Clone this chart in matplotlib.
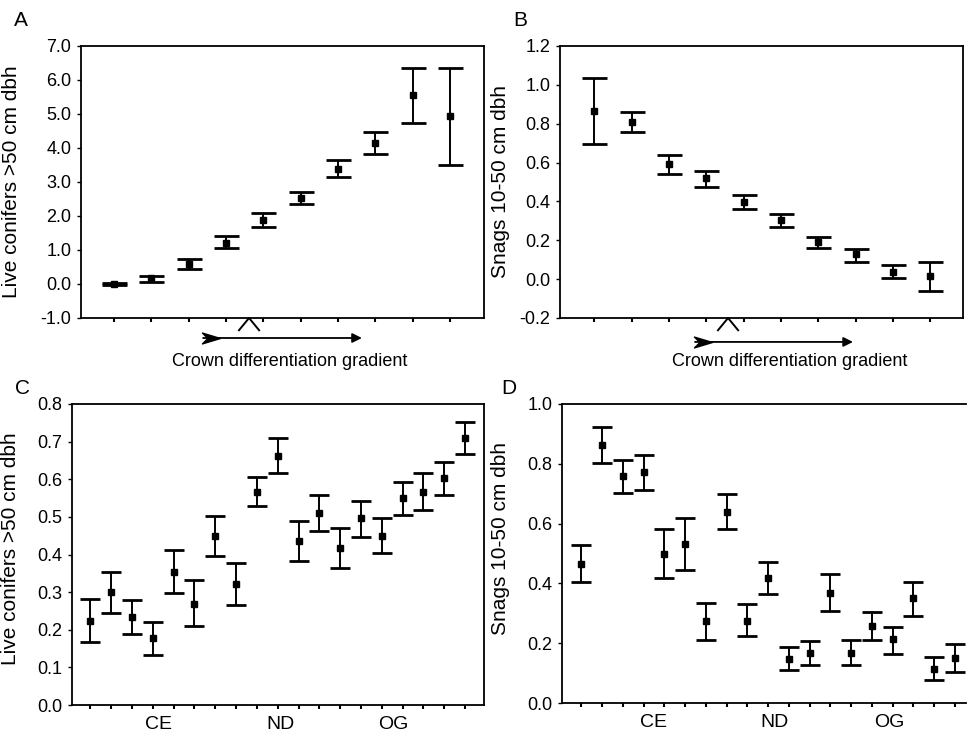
"""Four-panel error bar figure: live conifers and snags along a crown differentiation gradient."""
import matplotlib.pyplot as plt
import numpy as np
from matplotlib.path import Path

plt.rcParams["font.family"] = ["Liberation Sans", "DejaVu Sans"]

# panel A: live conifers >50 cm dbh, 10 gradient classes
A_mean = [0.0, 0.17, 0.58, 1.20, 1.88, 2.53, 3.38, 4.14, 5.57, 4.95]
A_lo = [-0.03, 0.07, 0.43, 1.05, 1.69, 2.36, 3.16, 3.81, 4.74, 3.51]
A_hi = [0.03, 0.25, 0.74, 1.41, 2.08, 2.71, 3.65, 4.48, 6.36, 6.36]

# panel B: snags 10-50 cm dbh, 10 gradient classes
B_mean = [0.865, 0.81, 0.591, 0.519, 0.399, 0.305, 0.191, 0.128, 0.038, 0.018]
B_lo = [0.694, 0.759, 0.543, 0.476, 0.360, 0.270, 0.159, 0.090, 0.008, -0.059]
B_hi = [1.034, 0.859, 0.639, 0.558, 0.433, 0.335, 0.219, 0.157, 0.073, 0.090]

# panel C: live conifers >50 cm dbh, 19 stands
C_mean = [0.224, 0.300, 0.235, 0.179, 0.354, 0.269, 0.448, 0.322, 0.567, 0.661,
          0.437, 0.509, 0.417, 0.496, 0.449, 0.551, 0.565, 0.602, 0.709]
C_lo = [0.168, 0.245, 0.190, 0.132, 0.299, 0.209, 0.397, 0.266, 0.529, 0.616,
        0.383, 0.462, 0.364, 0.447, 0.403, 0.506, 0.519, 0.557, 0.666]
C_hi = [0.281, 0.354, 0.278, 0.220, 0.412, 0.332, 0.501, 0.378, 0.606, 0.709,
        0.489, 0.559, 0.470, 0.542, 0.496, 0.594, 0.616, 0.646, 0.751]

# panel D: snags 10-50 cm dbh, 19 stands
D_mean = [0.465, 0.862, 0.760, 0.773, 0.498, 0.532, 0.273, 0.639, 0.275, 0.418,
          0.148, 0.166, 0.368, 0.166, 0.256, 0.214, 0.350, 0.115, 0.151]
D_lo = [0.405, 0.803, 0.703, 0.711, 0.418, 0.444, 0.212, 0.582, 0.225, 0.365,
        0.110, 0.127, 0.307, 0.126, 0.211, 0.165, 0.290, 0.076, 0.104]
D_hi = [0.528, 0.924, 0.814, 0.829, 0.581, 0.619, 0.334, 0.700, 0.330, 0.472,
        0.188, 0.206, 0.430, 0.210, 0.303, 0.254, 0.406, 0.154, 0.197]

GROUPS = ["CE", "ND", "OG"]
C_GROUP_POS = [4.26, 10.12, 15.55]
D_GROUP_POS = [4.46, 10.32, 15.84]

W, H = 967, 738
# notched tail for the gradient arrow
TAIL = Path([(-1.0, 0.6), (1.0, 0.0), (-1.0, -0.6), (-0.4, 0.0), (-1.0, 0.6)],
            [Path.MOVETO, Path.LINETO, Path.LINETO, Path.LINETO, Path.CLOSEPOLY])


def px_axes(fig, left, top, right, bottom):
    return fig.add_axes([left / W, 1 - bottom / H, (right - left) / W, (bottom - top) / H])


def draw_panel(ax, mean, lo, hi, capsize):
    mean = np.asarray(mean)
    x = np.arange(1, len(mean) + 1)
    yerr = [mean - np.asarray(lo), np.asarray(hi) - mean]
    ax.errorbar(x, mean, yerr=yerr, fmt="s", color="black", markersize=4.5,
                elinewidth=1.4, capsize=capsize, capthick=2.0)
    ax.set_xticks(x)
    ax.set_xticklabels([])
    ax.tick_params(axis="x", which="major", direction="out", length=3, width=1.5)
    ax.tick_params(axis="y", direction="out", length=3, width=1, pad=4, labelsize=13)
    for s in ax.spines.values():
        s.set_linewidth(1.3)


def gradient_arrow(ax, tail_x, head_x, y, caret_x, text_x):
    ax.annotate("", xy=(head_x, y), xytext=(tail_x, y), xycoords="axes fraction",
                arrowprops=dict(arrowstyle="-|>", color="black", lw=1.3,
                                mutation_scale=14, shrinkA=0, shrinkB=0),
                annotation_clip=False)
    ax.plot([tail_x + 0.02], [y], transform=ax.transAxes, marker=TAIL, markersize=13,
            color="black", clip_on=False)
    ax.plot([caret_x - 0.025, caret_x, caret_x + 0.025], [-0.045, 0.0, -0.045],
            transform=ax.transAxes, color="black", lw=1.4, clip_on=False)
    ax.text(text_x, -0.16, "Crown differentiation gradient", transform=ax.transAxes,
            ha="center", va="center", fontsize=13)


fig = plt.figure(figsize=(W / 100, H / 100), dpi=100)

axA = px_axes(fig, 81, 46, 484, 318)
draw_panel(axA, A_mean, A_lo, A_hi, capsize=9)
axA.set_xlim(0.12, 10.91)
axA.set_ylim(-1.0, 7.0)
axA.set_yticks(np.arange(-1.0, 7.01, 1.0))
axA.set_yticklabels([f"{v:.1f}" for v in np.arange(-1.0, 7.01, 1.0)])
axA.set_ylabel("Live conifers >50 cm dbh", fontsize=15)
axA.yaxis.set_label_coords(-0.148, 0.5)
gradient_arrow(axA, 0.303, 0.697, -0.0735, 0.417, 0.517)

axB = px_axes(fig, 560, 46, 963, 318)
draw_panel(axB, B_mean, B_lo, B_hi, capsize=9)
axB.set_xlim(0.08, 10.88)
axB.set_ylim(-0.2, 1.2)
axB.set_yticks(np.arange(-0.2, 1.21, 0.2))
axB.set_yticklabels([f"{v:.1f}" for v in np.arange(-0.2, 1.21, 0.2)])
axB.set_ylabel("Snags 10-50 cm dbh", fontsize=15)
axB.yaxis.set_label_coords(-0.125, 0.5)
gradient_arrow(axB, 0.335, 0.727, -0.088, 0.417, 0.571)

axC = px_axes(fig, 72, 404, 484, 705)
draw_panel(axC, C_mean, C_lo, C_hi, capsize=7)
axC.set_xlim(0.12, 19.91)
axC.set_ylim(0.0, 0.8)
axC.set_yticks(np.arange(0.0, 0.81, 0.1))
axC.set_yticklabels([f"{v:.1f}" for v in np.arange(0.0, 0.81, 0.1)])
axC.set_xticks(C_GROUP_POS, GROUPS, minor=True)
axC.tick_params(axis="x", which="minor", length=0, pad=8, labelsize=14)
axC.set_ylabel("Live conifers >50 cm dbh", fontsize=15)
axC.yaxis.set_label_coords(-0.127, 0.52)

axD = px_axes(fig, 562, 404, 966, 703)
draw_panel(axD, D_mean, D_lo, D_hi, capsize=7)
axD.set_xlim(0.07, 19.54)
axD.set_ylim(0.0, 1.0)
axD.set_yticks(np.arange(0.0, 1.01, 0.2))
axD.set_yticklabels([f"{v:.1f}" for v in np.arange(0.0, 1.01, 0.2)])
axD.set_xticks(D_GROUP_POS, GROUPS, minor=True)
axD.tick_params(axis="x", which="minor", length=0, pad=8, labelsize=14)
axD.spines["right"].set_visible(False)
axD.set_ylabel("Snags 10-50 cm dbh", fontsize=15)
axD.yaxis.set_label_coords(-0.129, 0.55)

for letter, (px, py) in zip("ABCD", [(21, 21), (520, 21), (23, 388), (509, 388)]):
    fig.text(px / W, 1 - py / H, letter, ha="center", va="center", fontsize=15)

fig.savefig("out.png", dpi=100)
plt.close(fig)
